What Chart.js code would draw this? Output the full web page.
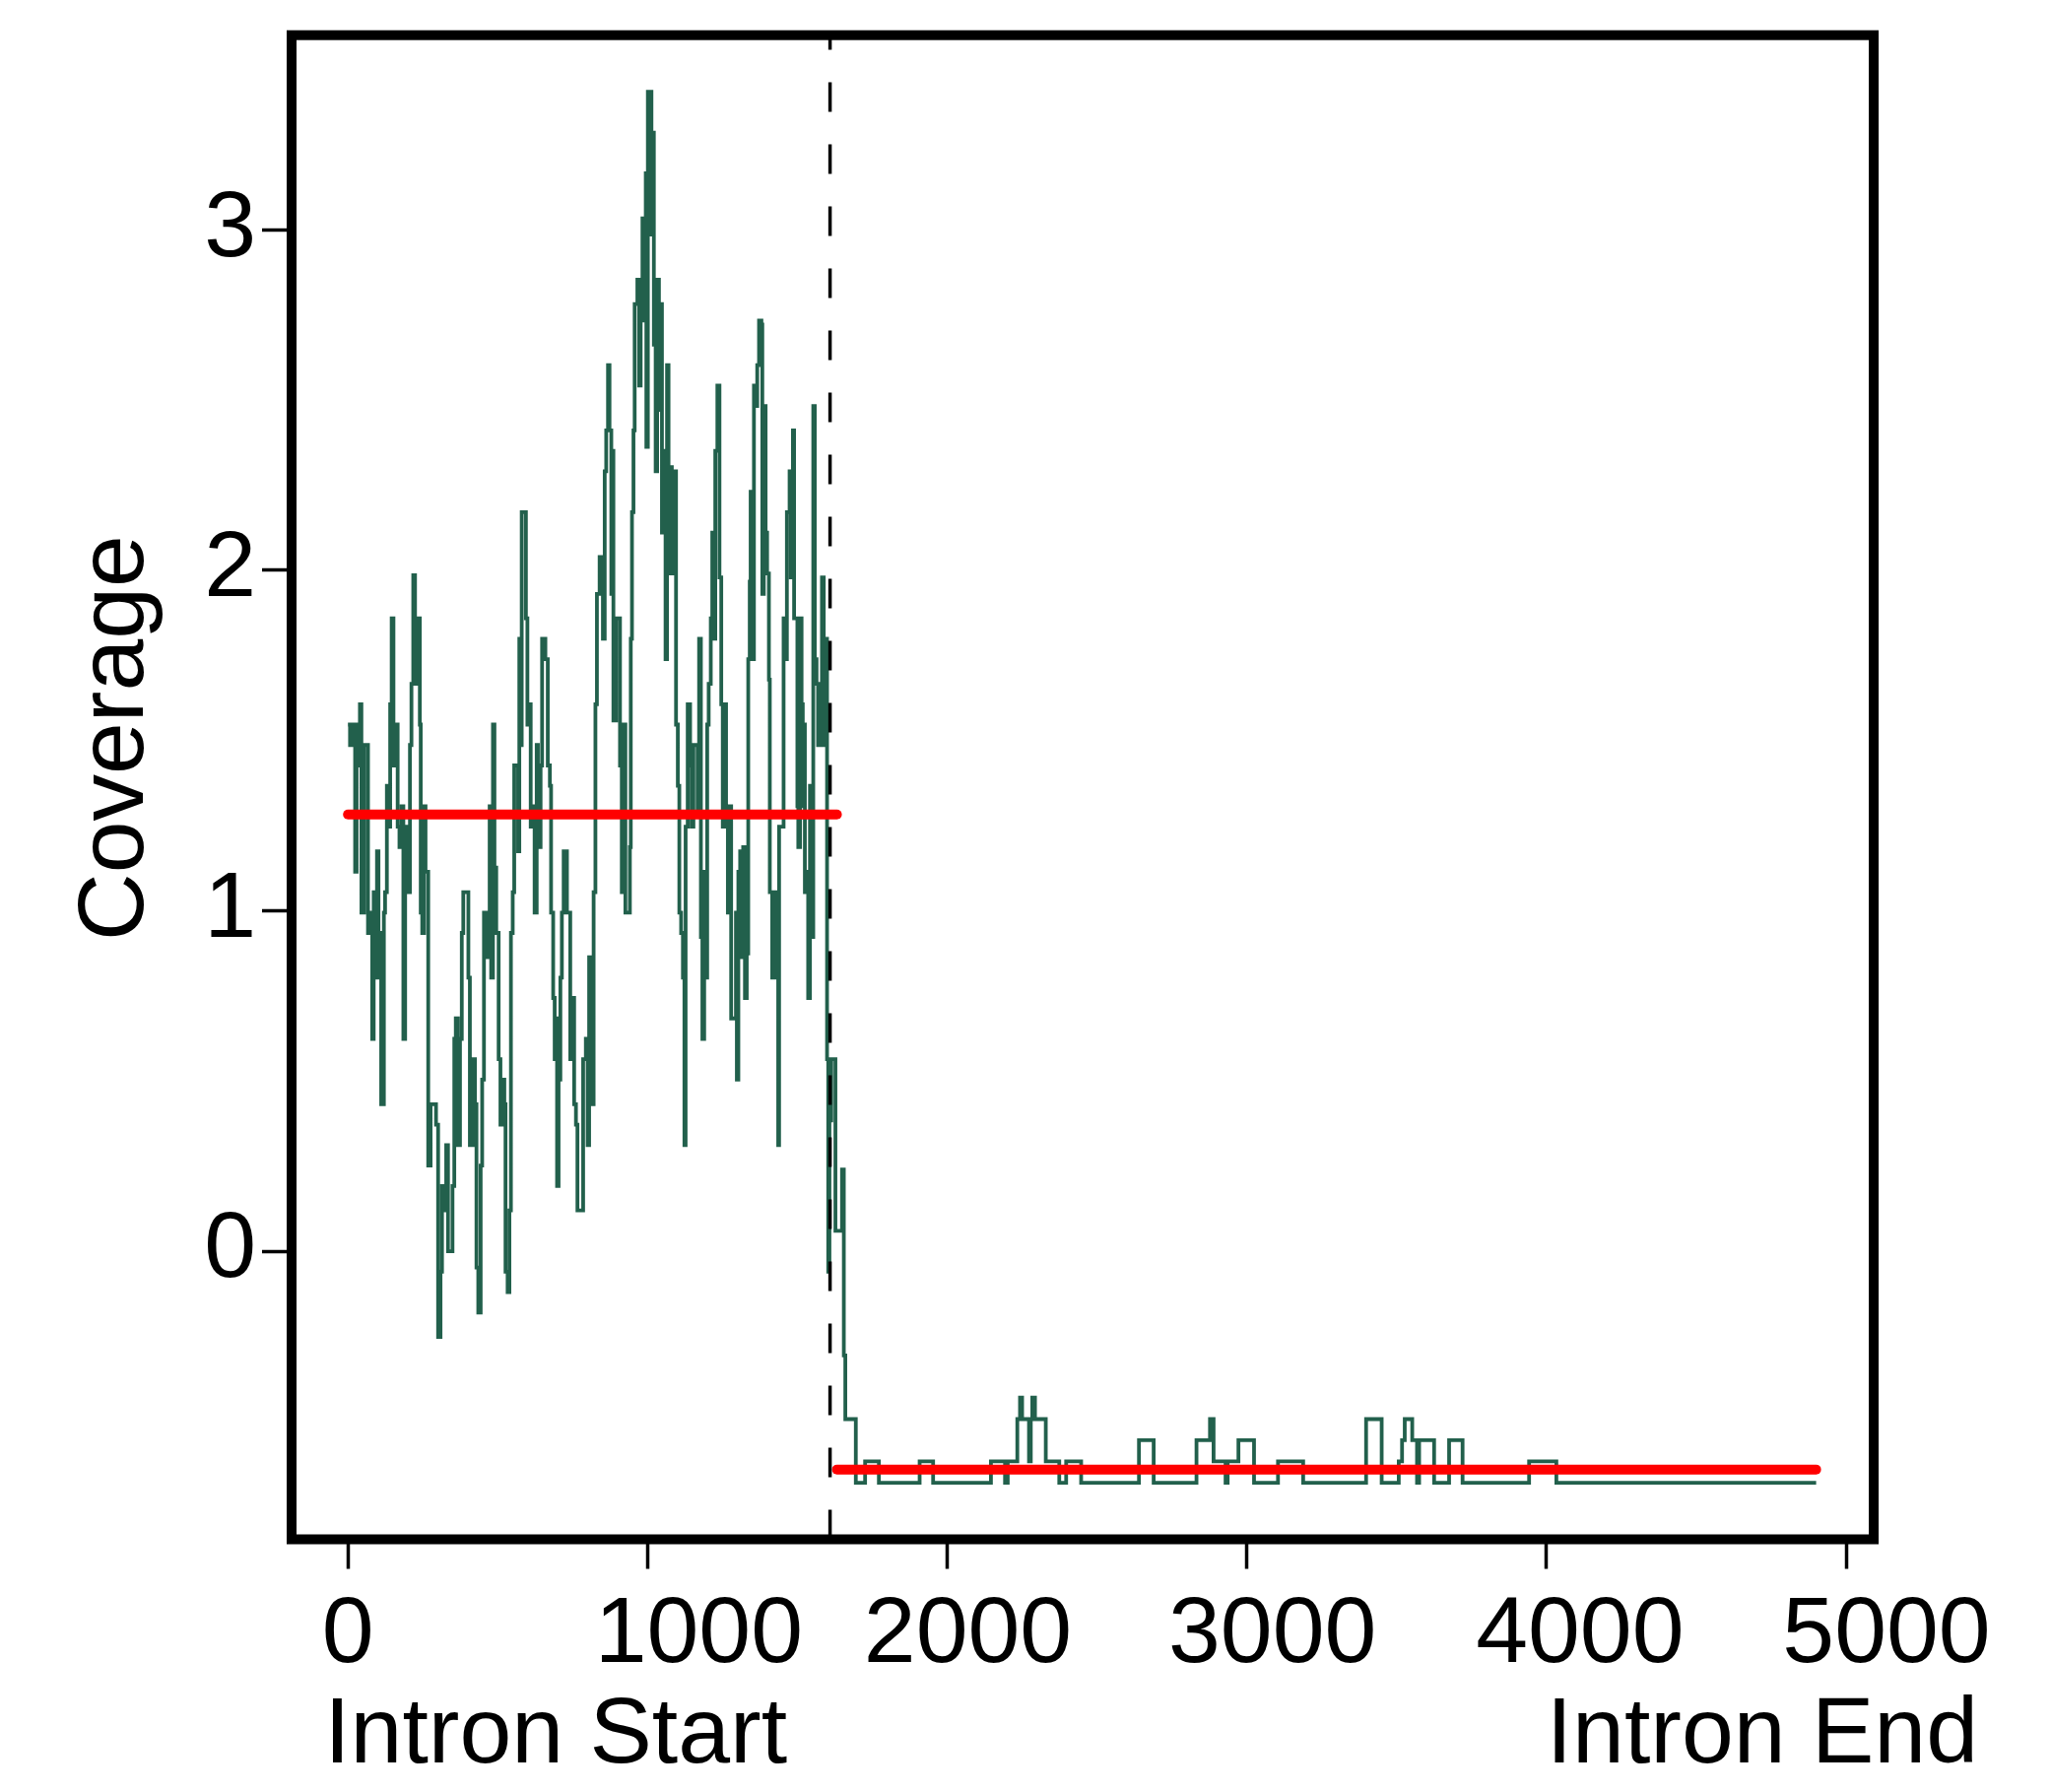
<!DOCTYPE html>
<html>
<head>
<meta charset="utf-8">
<script src="https://cdn.jsdelivr.net/npm/chart.js@4"></script>
<style>
  body { margin: 0; background: #fff; }
  canvas { display: block; }
</style>
</head>
<body>
<canvas id="coverage" width="2082" height="1819"></canvas>
<script>
// positions along the intron and read coverage (step changes)
const positions = [
  0, 7, 16, 24, 29, 35, 40, 45, 54, 67, 75, 81, 86, 92, 97, 102, 108, 111, 120, 124,
  130, 135, 141, 146, 152, 161, 166, 172, 179, 185, 191, 202, 207, 212, 218, 224, 230, 240, 243, 248,
  254, 259, 268, 276, 294, 301, 309, 314, 323, 328, 334, 349, 355, 360, 367, 374, 380, 385, 402, 407,
  418, 424, 429, 435, 443, 448, 454, 465, 473, 478, 484, 489, 495, 503, 509, 515, 522, 526, 533, 539,
  544, 550, 555, 568, 572, 575, 580, 594, 599, 605, 610, 615, 623, 630, 634, 643, 648, 659, 667, 674,
  678, 685, 690, 694, 698, 703, 709, 714, 720, 731, 742, 748, 755, 761, 766, 785, 794, 800, 805, 816,
  820, 826, 831, 840, 851, 857, 862, 868, 873, 879, 882, 886, 895, 908, 914, 920, 926, 941, 944, 948,
  953, 957, 966, 972, 977, 983, 988, 994, 996, 1001, 1013, 1018, 1021, 1027, 1032, 1038, 1043, 1048, 1054, 1060,
  1065, 1070, 1076, 1081, 1087, 1095, 1101, 1106, 1112, 1118, 1123, 1127, 1134, 1142, 1147, 1153, 1167, 1172, 1178, 1183,
  1189, 1193, 1199, 1204, 1211, 1216, 1222, 1226, 1233, 1240, 1246, 1251, 1257, 1262, 1268, 1273, 1279, 1295, 1298, 1303,
  1309, 1314, 1319, 1325, 1331, 1336, 1341, 1344, 1350, 1355, 1361, 1366, 1372, 1380, 1383, 1388, 1394, 1399, 1405, 1408,
  1416, 1423, 1430, 1436, 1439, 1454, 1460, 1465, 1474, 1478, 1485, 1489, 1500, 1503, 1509, 1514, 1518, 1522, 1525, 1531,
  1536, 1542, 1547, 1553, 1558, 1564, 1569, 1577, 1582, 1588, 1594, 1599, 1603, 1607, 1613, 1627, 1649, 1655, 1660, 1695,
  1726, 1772, 1908, 1953, 2146, 2193, 2202, 2234, 2243, 2250, 2273, 2279, 2284, 2293, 2329, 2374, 2397, 2447, 2640, 2689,
  2832, 2877, 2889, 2929, 2936, 2972, 3024, 3104, 3188, 3398, 3450, 3507, 3518, 3527, 3552, 3568, 3575, 3625, 3675, 3720,
  3942, 4033, 4900
];
const coverage = [
  1.547, 1.487, 1.547, 1.115, 1.547, 1.427, 1.607, 0.995, 1.487, 0.935, 0.995, 0.624, 1.055, 0.804, 1.175, 0.804, 0.935, 0.432, 0.995, 1.055,
  1.367, 1.247, 1.607, 1.859, 1.427, 1.547, 1.247, 1.187, 1.307, 0.624, 1.247, 1.055, 1.487, 1.667, 1.986, 1.667, 1.859, 1.547, 0.995, 0.935,
  1.307, 1.115, 0.252, 0.432, 0.372, -0.252, -0.06, 0.192, 0.120, 0.312, 0.0, 0.192, 0.624, 0.684, 0.312, 0.624, 0.935, 1.055, 0.804, 0.312,
  0.564, 0.432, -0.048, -0.180, 0.252, 0.504, 0.995, 0.864, 1.307, 0.804, 1.547, 1.127, 0.935, 0.564, 0.372, 0.504, 0.432, -0.06, -0.12, 0.12,
  0.935, 1.055, 1.427, 1.175, 1.799, 1.487, 2.171, 1.859, 1.547, 1.607, 1.247, 1.307, 0.995, 1.487, 1.187, 1.427, 1.799, 1.739, 1.427, 1.367,
  0.995, 0.744, 0.564, 0.684, 0.192, 0.504, 0.804, 0.995, 1.175, 0.995, 0.564, 0.744, 0.432, 0.372, 0.12, 0.564, 0.624, 0.312, 0.864, 0.432,
  1.055, 1.607, 1.931, 2.039, 1.799, 2.291, 2.411, 2.603, 2.411, 1.931, 2.351, 1.559, 1.859, 1.427, 1.055, 1.547, 0.995, 1.187, 1.799, 2.171,
  2.411, 2.782, 2.854, 2.543, 2.782, 3.034, 2.734, 3.166, 2.363, 3.406, 2.986, 3.286, 2.663, 2.291, 2.854, 2.471, 2.782, 2.111, 2.351, 1.739,
  2.603, 1.991, 2.303, 1.991, 2.291, 1.547, 1.367, 0.995, 0.935, 0.804, 0.312, 1.247, 1.607, 1.427, 1.247, 1.487, 1.295, 1.799, 0.923, 0.624,
  1.115, 0.804, 1.547, 1.667, 1.859, 2.111, 1.799, 2.351, 2.543, 1.979, 1.607, 1.247, 1.607, 1.295, 0.995, 1.307, 0.684, 0.995, 0.504, 1.115,
  1.175, 0.864, 1.187, 0.744, 0.875, 1.739, 1.967, 2.231, 1.739, 2.543, 2.483, 2.603, 2.734, 2.722, 1.931, 2.483, 2.111, 1.991, 1.679, 1.055,
  0.804, 1.055, 0.804, 0.312, 1.247, 1.859, 1.739, 2.171, 2.291, 1.979, 2.411, 1.859, 1.307, 1.187, 1.859, 1.607, 1.307, 1.547, 1.055, 1.115,
  0.744, 1.367, 0.923, 2.483, 1.739, 1.667, 1.487, 1.667, 1.979, 1.487, 1.799, 0.564, -0.06, 0.384, 0.564, 0.06, 0.24, -0.306, -0.493, -0.680,
  -0.617, -0.680, -0.617, -0.680, -0.617, -0.680, -0.617, -0.493, -0.430, -0.493, -0.617, -0.493, -0.430, -0.493, -0.617, -0.680, -0.617, -0.680, -0.555, -0.680,
  -0.555, -0.493, -0.617, -0.680, -0.617, -0.555, -0.680, -0.617, -0.680, -0.493, -0.680, -0.617, -0.555, -0.493, -0.555, -0.680, -0.555, -0.680, -0.555, -0.680,
  -0.617, -0.680, -0.680
];

// segment means (red) and the split point (dashed)
const meanStart = [0, 1632];
const meanEnd = [1632, 4900];
const meanLevel = [1.283, -0.641];
const splitAt = 1609;

const xTicks = [0, 1000, 2000, 3000, 4000, 5000];
const yTicks = [0, 1, 2, 3];
const xRange = [-188, 5092];
const yRange = [-0.846, 3.572];
const startLabel = 'Intron Start';
const endLabel = 'Intron End';
const yTitle = 'Coverage';

const FONT = '"Liberation Sans", Arial, Helvetica, sans-serif';
const FONT_SIZE = 95;
// the x labels in the original sit a little right of their ticks
const xLabelShift = [0, 52, 21, 26, 34, 41];

const framePlugin = {
  id: 'frame',
  afterDraw(chart) {
    const { ctx, chartArea: a, scales: { x } } = chart;
    ctx.save();
    ctx.lineWidth = 10;
    ctx.strokeStyle = '#000';
    ctx.strokeRect(a.left, a.top, a.right - a.left, a.bottom - a.top);

    ctx.fillStyle = '#000';
    ctx.font = FONT_SIZE + 'px ' + FONT;
    ctx.textBaseline = 'alphabetic';
    ctx.textAlign = 'center';
    xTicks.forEach((v, i) => {
      ctx.fillText(String(v), x.getPixelForValue(v) + xLabelShift[i], 1687);
    });

    ctx.textAlign = 'left';
    ctx.fillText(startLabel, x.getPixelForValue(xTicks[0]) - 24, 1789);
    ctx.textAlign = 'right';
    ctx.fillText(endLabel, x.getPixelForValue(xTicks[xTicks.length - 1]) + 134, 1789);

    ctx.translate(145, 749);
    ctx.rotate(-Math.PI / 2);
    ctx.textAlign = 'center';
    ctx.fillText(yTitle, 0, 0);
    ctx.restore();
  }
};

const ctx = document.getElementById('coverage');

new Chart(ctx, {
  type: 'line',
  data: {
    datasets: [
      {
        data: positions.map((p, i) => ({ x: p, y: coverage[i] })),
        borderColor: '#22604C',
        borderWidth: 3.8,
        stepped: 'before',
        pointRadius: 0,
        order: 3
      },
      {
        data: [{ x: meanStart[0], y: meanLevel[0] }, { x: meanEnd[0], y: meanLevel[0] }],
        borderColor: '#FF0000',
        borderWidth: 10,
        borderCapStyle: 'round',
        pointRadius: 0,
        order: 2
      },
      {
        data: [{ x: meanStart[1], y: meanLevel[1] }, { x: meanEnd[1], y: meanLevel[1] }],
        borderColor: '#FF0000',
        borderWidth: 10,
        borderCapStyle: 'round',
        pointRadius: 0,
        order: 2
      },
      {
        data: [{ x: splitAt, y: yRange[0] }, { x: splitAt, y: yRange[1] }],
        borderColor: '#000',
        borderWidth: 3.5,
        borderDash: [30, 33],
        pointRadius: 0,
        order: 1
      }
    ]
  },
  options: {
    responsive: false,
    animation: false,
    layout: { padding: { top: 35.7, right: 180, left: 0, bottom: 0 } },
    plugins: { legend: { display: false }, tooltip: { enabled: false } },
    scales: {
      x: {
        type: 'linear',
        min: xRange[0],
        max: xRange[1],
        afterBuildTicks: (s) => { s.ticks = xTicks.map(v => ({ value: v })); },
        afterFit: (s) => { s.height = 1819 - 1562.5; s.paddingLeft = 0; s.paddingRight = 0; },
        border: { display: false },
        grid: { drawOnChartArea: false, tickLength: 30, tickWidth: 3.5, tickColor: '#000' },
        ticks: { display: false }
      },
      y: {
        type: 'linear',
        min: yRange[0],
        max: yRange[1],
        afterBuildTicks: (s) => { s.ticks = yTicks.map(v => ({ value: v })); },
        afterFit: (s) => { s.width = 296; s.paddingTop = 0; s.paddingBottom = 0; },
        border: { display: false },
        grid: { drawOnChartArea: false, tickLength: 30, tickWidth: 3.5, tickColor: '#000' },
        ticks: {
          color: '#000', padding: 6,
          font: { family: FONT, size: FONT_SIZE },
          callback: (v) => String(v)
        }
      }
    }
  },
  plugins: [framePlugin]
});
</script>
</body>
</html>
